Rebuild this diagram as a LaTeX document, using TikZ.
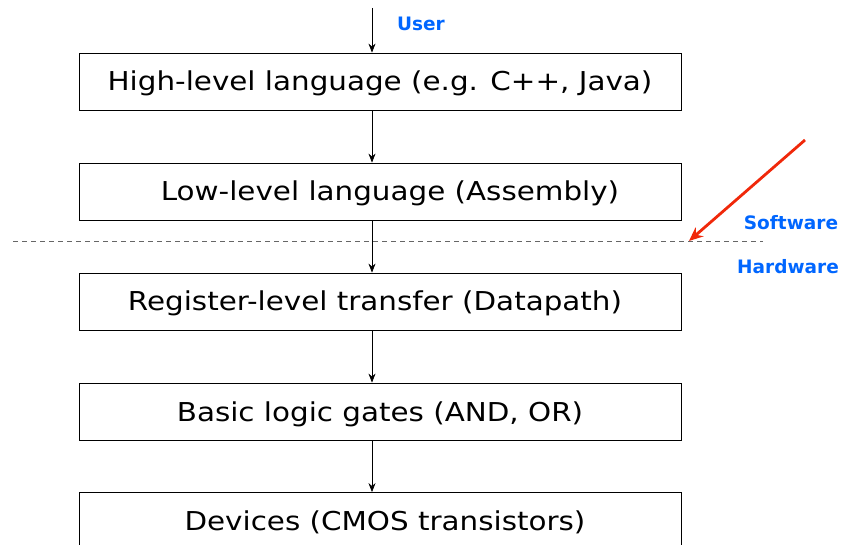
\documentclass[tikz,border=0pt]{standalone}
\usepackage{fontspec}
\setmainfont{DejaVu Sans}
\newfontfamily\boxfont{DejaVu Sans}[FakeStretch=1.13]
\usetikzlibrary{arrows.meta}
\definecolor{lblue}{RGB}{0,102,255}
\definecolor{redarr}{RGB}{240,40,10}
\begin{document}
\begin{tikzpicture}[x=1pt,y=-1pt,
  layer/.style={draw=black, line width=0.8pt, minimum width=602pt, minimum height=57pt, inner sep=0pt, text height=19pt, text depth=0pt, font=\boxfont\fontsize{26}{30}\selectfont},
  conn/.style={-{Stealth[length=9pt,width=7pt]}, line width=0.7pt},
  tag/.style={text=lblue, font=\bfseries\fontsize{18.5}{22}\selectfont}]
\useasboundingbox (0,0) rectangle (844,545);
\clip (0,0) rectangle (844,545);
\node[layer] (b1) at (380,81.5) {High-level language (e.g. C++, Java)};
\node[layer] (b2) at (380,191.5) {\hspace*{20pt}Low-level language (Assembly)};
\node[layer] (b3) at (380,301.5) {Register-level transfer (Datapath)\hspace*{10pt}};
\node[layer] (b4) at (380,411.5) {Basic logic gates (AND, OR)};
\node[layer] (b5) at (380,521) {\hspace*{10pt}Devices (CMOS transistors)};
\coordinate (top) at (372,8);
\draw[conn] (top) -- (top |- b1.north);
\draw[conn] (b1.south -| top) -- (b2.north -| top);
\draw[conn] (b2.south -| top) -- (b3.north -| top);
\draw[conn] (b3.south -| top) -- (b4.north -| top);
\draw[conn] (b4.south -| top) -- (b5.north -| top);
\coordinate (dl) at (13,242);
\coordinate (dr) at (763,242);
\draw[gray!80!black, line width=1pt, dash pattern=on 5pt off 4pt] (dl) -- (dr);
\coordinate (rs) at (805,140);
\coordinate (re) at (689,241);
\draw[redarr, line width=2.8pt, -{Stealth[length=14pt,width=12pt]}] (rs) -- (re);
\node[tag] (user) at (421,24) {User};
\node[tag] (sw) at (791,223) {Software};
\node[tag] (hw) at (788,267) {Hardware};
\end{tikzpicture}
\end{document}
